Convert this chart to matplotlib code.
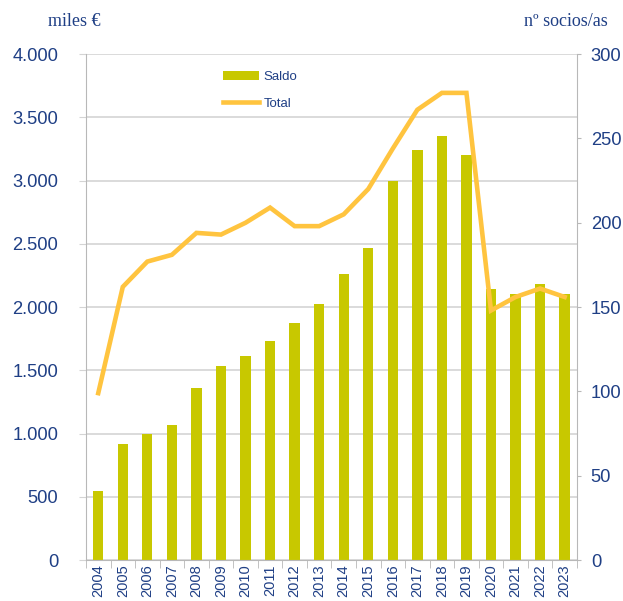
import matplotlib.pyplot as plt
import numpy as np

years = [str(y) for y in range(2004, 2024)]
saldo = [545, 917, 996, 1067, 1360, 1534, 1613, 1731, 1874, 2024,
         2261, 2466, 2996, 3241, 3352, 3202, 2142, 2103, 2182, 2103]
total = [99, 162, 177, 181, 194, 193, 200, 209, 198, 198,
         205, 220, 244, 267, 277, 277, 148, 156, 161, 156]

BAR_COLOR = "#C8C800"
LINE_COLOR = "#FFC43F"
TEXT_COLOR = "#1F3F85"
GRID_COLOR = "#D4D4D4"
SPINE_COLOR = "#B8B8B8"
SANS = "Liberation Sans"

fig = plt.figure(figsize=(6.23, 6.01), dpi=100)
ax = fig.add_axes([0.138, 0.068, 0.788, 0.842])
ax2 = ax.twinx()

x = np.arange(len(years))
bars = ax.bar(x, saldo, width=0.42, color=BAR_COLOR, label="Saldo", zorder=2)
line, = ax2.plot(x, total, color=LINE_COLOR, lw=3.3, label="Total",
                 solid_joinstyle="miter", zorder=3)

ax.set_xlim(-0.5, len(years) - 0.5)
ax.set_ylim(0, 4000)
ax2.set_ylim(0, 300)

ax.set_yticks(np.arange(0, 4001, 500))
ax.set_yticklabels([f"{v:,}".replace(",", ".") for v in range(0, 4001, 500)],
                   family=SANS)
ax2.set_yticks(np.arange(0, 301, 50))
ax2.set_yticklabels([str(v) for v in range(0, 301, 50)], family=SANS)

ax.set_xticks(x)
ax.set_xticklabels(years, rotation=90, fontsize=10.5, color=TEXT_COLOR,
                   family=SANS)
ax.set_xticks(np.arange(-0.5, len(years)), minor=True)
ax.tick_params(axis="x", which="major", length=0, pad=3)
ax.tick_params(axis="x", which="minor", length=6, color=SPINE_COLOR)

ax.tick_params(axis="y", labelsize=13.2, labelcolor=TEXT_COLOR, length=5,
               color=GRID_COLOR, pad=15)
ax2.tick_params(axis="y", labelsize=13.2, labelcolor=TEXT_COLOR, length=3,
                color=SPINE_COLOR, pad=7)

ax.grid(axis="y", color=GRID_COLOR, lw=1.2, zorder=0)
ax.set_axisbelow(True)

for a in (ax, ax2):
    a.spines["top"].set_visible(False)
    for s in ("left", "right", "bottom"):
        a.spines[s].set_color(SPINE_COLOR)
ax.spines["right"].set_visible(False)
ax2.spines["left"].set_visible(False)
ax2.spines["bottom"].set_visible(False)

fig.text(48 / 623, 1 - 21 / 601, "miles €", family="Liberation Serif",
         fontsize=13, color=TEXT_COLOR, va="center", ha="left")
fig.text(608 / 623, 1 - 21 / 601, "nº socios/as", family="Liberation Serif",
         fontsize=13, color=TEXT_COLOR, va="center", ha="right")

ax.legend([bars, line], ["Saldo", "Total"], loc="upper left",
          bbox_to_anchor=(0.254, 0.99), frameon=False,
          prop={"family": SANS, "size": 9.5}, labelcolor=TEXT_COLOR,
          handlelength=2.8, labelspacing=1.1, handletextpad=0.3)

fig.savefig("out.png", dpi=100)
